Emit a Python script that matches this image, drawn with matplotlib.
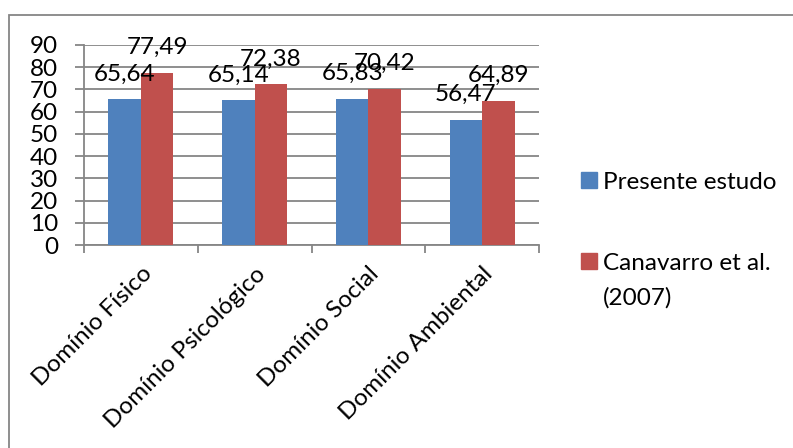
import matplotlib
matplotlib.use("Agg")
import matplotlib.pyplot as plt
from matplotlib.patches import Rectangle
import numpy as np

plt.rcParams['font.family'] = ['Lato', 'DejaVu Sans']

categories = ["Domínio Físico", "Domínio Psicológico", "Domínio Social", "Domínio Ambiental"]
series_names = ["Presente estudo", "Canavarro et al.\n(2007)"]
presente = [65.64, 65.14, 65.83, 56.47]
canavarro = [77.49, 72.38, 70.42, 64.89]
y_ticks = [0, 10, 20, 30, 40, 50, 60, 70, 80, 90]

colors = ["#4F81BD", "#C0504D"]
grid_color = "#868686"
FS = 17.5

W, H = 793, 448
fig = plt.figure(figsize=(W / 100, H / 100), dpi=100)

# chart-area frame
fig.patches.append(Rectangle((9 / W, -0.1), 1.2, (H - 15) / H + 0.1, transform=fig.transFigure,
                             fill=False, edgecolor=grid_color, linewidth=1.3))

ax = fig.add_axes([84 / W, (H - 245) / H, (539 - 84) / W, 200 / H])

x = np.arange(len(categories))
bw = 0.285
b1 = ax.bar(x - bw / 2, presente, bw, color=colors[0], zorder=3)
b2 = ax.bar(x + bw / 2, canavarro, bw, color=colors[1], zorder=3)

for bars, vals in ((b1, presente), (b2, canavarro)):
    for rect, v in zip(bars, vals):
        ax.annotate(f"{v:.2f}".replace(".", ","),
                    (rect.get_x() + rect.get_width() / 2, v),
                    xytext=(0, 13.5), textcoords="offset points",
                    ha="center", va="baseline", fontsize=FS, zorder=5)

ax.set_xlim(-0.5, len(categories) - 0.5)
ax.set_ylim(0, 90)
ax.set_yticks(y_ticks)
ax.set_yticklabels([str(t) for t in y_ticks], fontsize=FS)
ax.yaxis.grid(True, color=grid_color, linewidth=1.3, zorder=0)
ax.set_axisbelow(True)

# category boundaries as ticks, labels at centres
ax.set_xticks(np.arange(-0.5, len(categories), 1.0))
ax.set_xticklabels([])
ax.set_xticks(x, minor=True)
ax.set_xticklabels(categories, minor=True, rotation=45, ha="right",
                   rotation_mode="anchor", fontsize=FS)
ax.tick_params(axis="x", which="minor", length=0, pad=13)
ax.tick_params(axis="x", which="major", length=6, width=1.3, color=grid_color)
ax.tick_params(axis="y", length=6.5, width=1.3, color=grid_color, pad=12)

for s in ("top", "right"):
    ax.spines[s].set_visible(False)
for s in ("left", "bottom"):
    ax.spines[s].set_color(grid_color)
    ax.spines[s].set_linewidth(1.3)

# legend
leg_items = [(series_names[0], colors[0], 172), (series_names[1], colors[1], 253)]
for name, col, top in leg_items:
    fig.patches.append(Rectangle((581 / W, (H - top - 16) / H), 16 / W, 16 / H,
                                 transform=fig.transFigure, color=col))
    lines = name.split("\n")
    for i, line in enumerate(lines):
        fig.text(603 / W, (H - top - 8 - 35 * i) / H, line, fontsize=FS,
                 va="center_baseline", ha="left")

fig.savefig("out.png", dpi=100)
